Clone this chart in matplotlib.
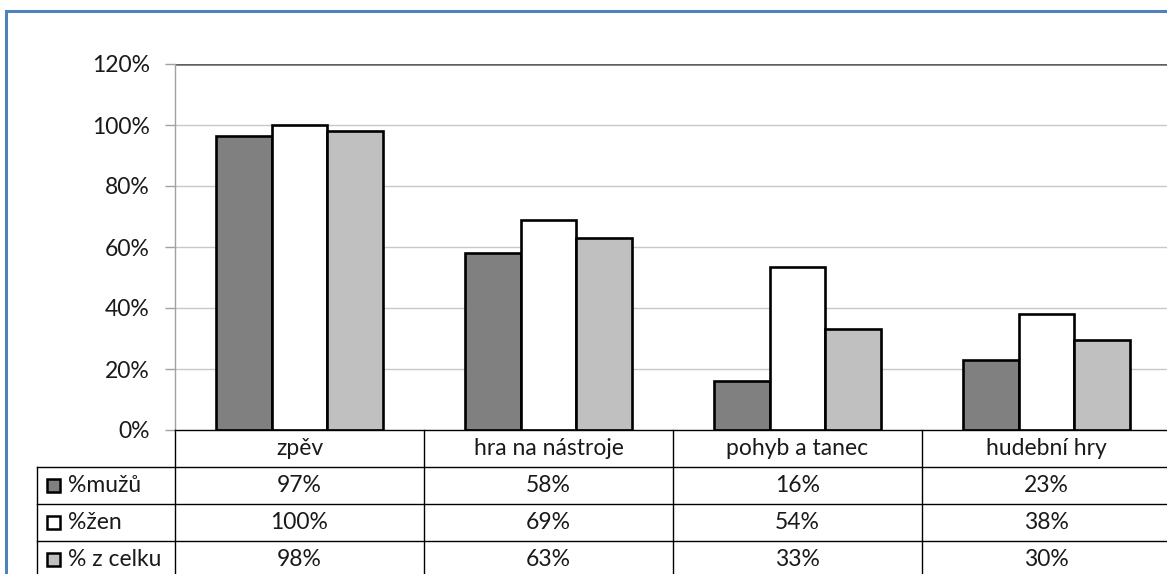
import matplotlib
matplotlib.use("Agg")
import matplotlib.pyplot as plt
from matplotlib.patches import Rectangle
from matplotlib.lines import Line2D

categories = ["zpěv", "hra na nástroje", "pohyb a tanec", "hudební hry"]
series_names = ["%mužů", "%žen", "% z celku"]
muzi = [0.965, 0.58, 0.16, 0.23]
zeny = [1.00, 0.69, 0.535, 0.38]
celek = [0.98, 0.63, 0.33, 0.295]
table_muzi = ["97%", "58%", "16%", "23%"]
table_zeny = ["100%", "69%", "54%", "38%"]
table_celek = ["98%", "63%", "33%", "30%"]
yticks = [0, 0.2, 0.4, 0.6, 0.8, 1.0, 1.2]
ytick_labels = ["0%", "20%", "40%", "60%", "80%", "100%", "120%"]

colors = ["#808080", "#ffffff", "#c0c0c0"]
plt.rcParams['font.family'] = ['Lato', 'DejaVu Sans']
FS = 16.5
TC = "#1a1a1a"

W, H = 1167, 574
fig = plt.figure(figsize=(W / 100, H / 100), dpi=100)
fig.patch.set_facecolor("white")

# blue outer frame
fig.add_artist(Rectangle((6 / W, -0.1), 1.2, (H - 11) / H + 0.1, transform=fig.transFigure,
                         fill=False, edgecolor="#4f81bd", linewidth=2.2))

left_px, right_px, top_px, bot_px = 175, 1171, 64, 430
ax = fig.add_axes([left_px / W, (H - bot_px) / H, (right_px - left_px) / W, (bot_px - top_px) / H])
ax.set_xlim(-0.5, 3.5)
ax.set_ylim(0, 1.2)

bw = 0.223
for k, (vals, c) in enumerate(zip([muzi, zeny, celek], colors)):
    xs = [i + (k - 1) * bw for i in range(len(categories))]
    ax.bar(xs, vals, width=bw, color=c, edgecolor="black", linewidth=1.9, zorder=3)

ax.set_yticks(yticks)
ax.set_yticklabels(ytick_labels, fontsize=FS, color=TC)
ax.tick_params(axis="y", length=7.2, width=1, color="#a0a0a0", pad=11)
ax.set_xticks([])
for y in yticks[1:-1]:
    ax.axhline(y, color="#c8c8c8", linewidth=1, zorder=1)
ax.axhline(1.2, color="#606060", linewidth=1.8, zorder=1)
for s in ["top", "right", "bottom"]:
    ax.spines[s].set_visible(False)
ax.spines["left"].set_color("#a0a0a0")
ax.spines["left"].set_linewidth(1)

# data table below
rh = 37 / 305  # row height in data units
legend_left = -0.5 - 138 / 249
lc = "black"
lw = 1.0
def hline(x0, x1, y):
    ax.add_line(Line2D([x0, x1], [y, y], color=lc, linewidth=lw, clip_on=False, zorder=5))
def vline(x, y0, y1):
    ax.add_line(Line2D([x, x], [y0, y1], color=lc, linewidth=lw, clip_on=False, zorder=5))

n = len(categories)
hline(-0.5, n - 0.5, 0)
for r in range(1, 4):
    hline(legend_left, n - 0.5, -r * rh)
for i in range(n + 1):
    vline(i - 0.5, 0, -4 * rh)
vline(legend_left, -rh, -4 * rh)

for i, cat in enumerate(categories):
    ax.text(i, -0.5 * rh, cat, ha="center", va="center", fontsize=FS, color=TC, clip_on=False)
for r, (name, vals, c) in enumerate(zip(series_names, [table_muzi, table_zeny, table_celek], colors)):
    yc = -(r + 1.5) * rh
    for i, v in enumerate(vals):
        ax.text(i, yc, v, ha="center", va="center", fontsize=FS, color=TC, clip_on=False)
    sw = 13 / 249
    sh = 13 / 305
    ax.add_patch(Rectangle((legend_left + 10 / 249, yc - sh / 2), sw, sh, facecolor=c,
                           edgecolor="black", linewidth=1.8, clip_on=False, zorder=5))
    ax.text(legend_left + 31 / 249, yc, name, ha="left", va="center", fontsize=FS,
            color=TC, clip_on=False)

fig.savefig("out.png", dpi=100, facecolor="white")
